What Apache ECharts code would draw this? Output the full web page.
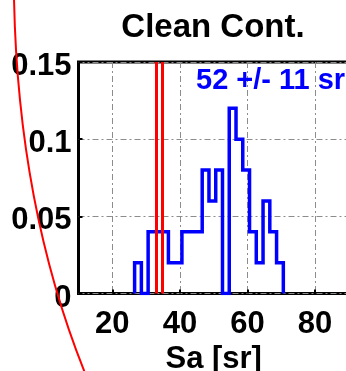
<!DOCTYPE html>
<html>
<head>
<meta charset="utf-8">
<script src="https://cdn.jsdelivr.net/npm/echarts@6/dist/echarts.min.js"></script>
<style>
  html, body { margin: 0; padding: 0; background: #fff; }
  #chart { width: 346px; height: 371px; }
</style>
</head>
<body>
<div id="chart"></div>
<script>
// Histogram of lidar ratio (Sa) for the clean continental class
const binEdges = [26.6, 28.6, 30.6, 32.6, 34.6, 36.6, 38.6, 40.6, 42.6, 44.6, 46.6, 48.6,
                  50.6, 52.6, 54.6, 56.6, 58.6, 60.6, 62.6, 64.6, 66.6, 68.6, 70.6];
const density = [0.02, 0, 0.04, 0.04, 0.04, 0.02, 0.02, 0.04, 0.04, 0.04, 0.08, 0.06,
                 0.08, 0, 0.12, 0.10, 0.08, 0.04, 0.02, 0.06, 0.04, 0.02];
// Reference Sa values drawn as red vertical lines
const refLines = [32.9, 34.9];
const xTicks = [20, 40, 60, 80];
const yTicks = [0, 0.05, 0.1, 0.15];
const titleText = 'Clean Cont.';
const xName = 'Sa [sr]';
const statText = '52 +/- 11 sr';

// Outline of the histogram as a stair path
const stairs = [[binEdges[0], 0]];
for (let i = 0; i < density.length; i++) {
  stairs.push([binEdges[i], density[i]]);
  stairs.push([binEdges[i + 1], density[i]]);
}
stairs.push([binEdges[binEdges.length - 1], 0]);

const font = 'Liberation Sans';
const gridLine = { color: '#8c8c8c', width: 1, type: [6, 3, 2, 3] };

const chart = echarts.init(document.getElementById('chart'));
chart.setOption({
  animation: false,
  title: {
    text: titleText,
    left: 208,
    top: 6,
    textAlign: 'center',
    textStyle: { fontFamily: font, fontWeight: 'bold', fontSize: 33, color: '#000' }
  },
  grid: {
    left: 78.5, top: 62, width: 270.4, height: 231.5,
    outerBoundsMode: 'none',
    show: true, borderColor: '#000', borderWidth: 3, backgroundColor: '#fff'
  },
  xAxis: {
    type: 'value', min: 10, max: 90, interval: 10,
    name: xName, nameLocation: 'middle', nameGap: 43,
    nameTextStyle: { fontFamily: font, fontWeight: 'bold', fontSize: 31, color: '#000' },
    axisLine: { show: false },
    axisTick: { show: true, inside: true, length: 4, customValues: xTicks, lineStyle: { color: '#000', width: 2 } },
    axisLabel: { customValues: xTicks, margin: 15, fontFamily: font, fontWeight: 'bold', fontSize: 31, color: '#000' },
    splitLine: { show: true, lineStyle: gridLine }
  },
  yAxis: {
    type: 'value', min: 0, max: 0.15, interval: 0.05,
    axisLine: { show: false },
    axisTick: { show: true, inside: true, length: 4, lineStyle: { color: '#000', width: 2 } },
    axisLabel: {
      margin: 7,
      formatter: v => '{v|' + v + '}',
      rich: {
        v: { fontFamily: font, fontWeight: 'bold', fontSize: 31, color: '#000', lineHeight: 40, verticalAlign: 'bottom' }
      }
    },
    splitLine: { show: true, lineStyle: gridLine }
  },
  series: [
    {
      type: 'line',
      data: stairs,
      symbol: 'none',
      lineStyle: { color: '#0000ff', width: 3.5, join: 'miter' },
      z: 3
    },
    {
      type: 'line',
      data: [],
      symbol: 'none',
      z: 4,
      markLine: {
        silent: true,
        symbol: 'none',
        label: { show: false },
        lineStyle: { color: '#ff0000', width: 3, type: 'solid' },
        data: refLines.map(v => ({ xAxis: v }))
      }
    }
  ],
  graphic: [
    {
      type: 'text',
      left: 196,
      top: 66,
      z: 10,
      style: { text: statText, fontFamily: font, fontWeight: 'bold', fontSize: 29, fill: '#0000ff' }
    },
    {
      type: 'bezierCurve',
      z: 20,
      shape: { x1: 14, y1: -2, cpx1: 18, cpy1: 206, x2: 85, y2: 373 },
      style: { stroke: '#ff0000', lineWidth: 2, fill: null }
    }
  ]
});
</script>
</body>
</html>
